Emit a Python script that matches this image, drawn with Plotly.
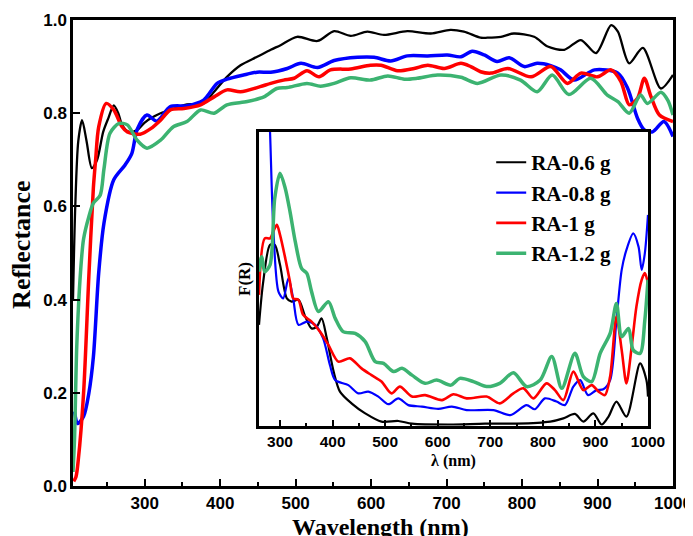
import plotly.graph_objects as go

# ---------------- main plot data (Reflectance) ----------------
wl_06 = [205, 208, 212, 217, 223, 230, 237, 245, 252, 259, 265, 270, 279, 290, 300, 308, 321, 334, 356, 378,
         392, 409, 427, 449, 467, 480, 502, 529, 551, 573, 595, 617, 648, 679, 705, 723, 745, 754, 772, 789,
         816, 834, 856, 878, 898, 918, 927, 942, 960, 984, 1000]
r_06 = [0.40, 0.60, 0.74, 0.785, 0.74, 0.682, 0.70, 0.76, 0.79, 0.817, 0.80, 0.775, 0.76, 0.764, 0.78, 0.789,
        0.80, 0.807, 0.819, 0.821, 0.846, 0.878, 0.903, 0.921, 0.936, 0.946, 0.964, 0.955, 0.976, 0.966, 0.975,
        0.968, 0.976, 0.971, 0.979, 0.975, 0.962, 0.962, 0.964, 0.971, 0.964, 0.943, 0.936, 0.957, 0.929, 0.989,
        0.975, 0.907, 0.94, 0.853, 0.882]

wl_08 = [207, 211, 219, 226, 232, 239, 246, 259, 274, 283, 290, 303, 316, 334, 356, 378, 396, 409, 431, 449,
         467, 489, 507, 529, 551, 582, 604, 626, 648, 675, 701, 719, 734, 750, 767, 783, 803, 820, 838, 851,
         869, 896, 927, 940, 953, 962, 973, 988, 1000]
r_08 = [0.16, 0.134, 0.149, 0.199, 0.277, 0.456, 0.564, 0.657, 0.689, 0.714, 0.765, 0.796, 0.783, 0.814, 0.816,
        0.828, 0.864, 0.873, 0.882, 0.888, 0.888, 0.896, 0.907, 0.898, 0.913, 0.92, 0.92, 0.912, 0.923, 0.923,
        0.925, 0.921, 0.933, 0.925, 0.911, 0.919, 0.90, 0.907, 0.902, 0.893, 0.871, 0.893, 0.886, 0.853, 0.789,
        0.764, 0.76, 0.782, 0.75]

wl_10 = [206, 209, 212, 219, 226, 232, 235, 239, 249, 259, 270, 277, 294, 308, 321, 334, 352, 374, 392, 409,
         427, 453, 467, 484, 498, 515, 531, 546, 573, 599, 613, 635, 657, 675, 697, 719, 732, 745, 759, 781,
         812, 838, 860, 878, 900, 918, 931, 942, 953, 962, 971, 982, 1000]
r_10 = [0.01, 0.02, 0.056, 0.199, 0.45, 0.64, 0.70, 0.77, 0.821, 0.807, 0.771, 0.76, 0.755, 0.767, 0.785, 0.807,
        0.81, 0.818, 0.835, 0.85, 0.846, 0.857, 0.864, 0.871, 0.875, 0.891, 0.878, 0.893, 0.895, 0.903, 0.903,
        0.891, 0.896, 0.903, 0.896, 0.907, 0.90, 0.889, 0.886, 0.896, 0.878, 0.90, 0.864, 0.886, 0.878, 0.893,
        0.868, 0.818, 0.832, 0.875, 0.835, 0.796, 0.782]

wl_12 = [205, 207, 210, 215, 219, 226, 232, 241, 246, 254, 266, 277, 290, 303, 321, 338, 356, 374, 392, 409,
         436, 458, 475, 489, 515, 533, 551, 573, 599, 622, 644, 661, 688, 719, 741, 772, 798, 820, 840, 862,
         891, 913, 927, 942, 957, 966, 984, 993, 1000]
r_12 = [0.03, 0.10, 0.30, 0.46, 0.53, 0.578, 0.607, 0.624, 0.68, 0.757, 0.778, 0.775, 0.742, 0.725, 0.742, 0.771,
        0.782, 0.807, 0.80, 0.818, 0.825, 0.835, 0.853, 0.855, 0.864, 0.858, 0.864, 0.876, 0.871, 0.88, 0.873,
        0.875, 0.882, 0.877, 0.864, 0.882, 0.871, 0.846, 0.882, 0.84, 0.875, 0.839, 0.825, 0.80, 0.839, 0.821,
        0.845, 0.828, 0.796]

# ---------------- inset data (F(R), arbitrary units) ----------------
lam_06 = [260, 268, 281, 290, 300, 313, 322, 335, 348, 360, 370, 379, 389, 402, 414, 436, 462, 493, 525, 551,
          623, 690, 750, 814, 839, 861, 877, 896, 912, 925, 940, 959, 985, 997, 1000]
f_06 = [0.344, 0.49, 0.616, 0.616, 0.548, 0.434, 0.423, 0.429, 0.372, 0.332, 0.338, 0.366, 0.298, 0.185, 0.117,
        0.077, 0.043, 0.015, 0.017, 0.008, 0.005, 0.008, 0.008, 0.015, 0.026, 0.041, 0.015, 0.043, 0.005, 0.032,
        0.083, 0.032, 0.213, 0.156, 0.10]

lam_08 = [260, 270, 281, 287, 297, 306, 316, 325, 335, 351, 367, 382, 395, 405, 430, 449, 468, 487, 506, 525,
          544, 570, 601, 627, 655, 706, 738, 769, 785, 804, 826, 842, 858, 871, 886, 902, 915, 928, 940, 950,
          959, 972, 982, 988, 994, 1000]
f_08 = [1.9, 1.5, 1.0, 0.684, 0.457, 0.434, 0.502, 0.434, 0.344, 0.355, 0.344, 0.298, 0.207, 0.156, 0.139, 0.111,
        0.117, 0.10, 0.074, 0.094, 0.071, 0.066, 0.058, 0.066, 0.054, 0.054, 0.037, 0.071, 0.057, 0.094, 0.083,
        0.071, 0.134, 0.156, 0.105, 0.122, 0.125, 0.156, 0.36, 0.531, 0.599, 0.655, 0.61, 0.531, 0.587, 0.718]

lam_10 = [260, 271, 281, 287, 294, 300, 310, 319, 325, 335, 344, 360, 376, 392, 411, 433, 455, 474, 493, 512,
          528, 551, 576, 608, 630, 655, 693, 718, 744, 763, 782, 807, 823, 839, 858, 877, 893, 906, 918, 928,
          940, 950, 959, 969, 978, 988, 994, 1000]
f_10 = [0.446, 0.638, 0.638, 0.661, 0.684, 0.65, 0.57, 0.49, 0.434, 0.429, 0.378, 0.355, 0.321, 0.276, 0.219,
        0.23, 0.196, 0.173, 0.151, 0.111, 0.134, 0.10, 0.105, 0.088, 0.108, 0.094, 0.10, 0.077, 0.111, 0.128,
        0.094, 0.145, 0.122, 0.088, 0.185, 0.122, 0.139, 0.117, 0.105, 0.168, 0.372, 0.258, 0.145, 0.27, 0.406,
        0.497, 0.52, 0.485]

lam_12 = [260, 265, 271, 281, 290, 300, 310, 319, 329, 341, 351, 360, 373, 392, 405, 420, 443, 462, 481, 497,
          516, 532, 551, 576, 598, 625, 642, 668, 693, 718, 744, 769, 795, 817, 836, 861, 877, 893, 909, 928,
          940, 950, 963, 972, 985, 994, 1000]
f_12 = [0.525, 0.576, 0.525, 0.548, 0.775, 0.86, 0.808, 0.729, 0.627, 0.536, 0.519, 0.457, 0.389, 0.423, 0.366,
        0.321, 0.315, 0.287, 0.219, 0.213, 0.185, 0.196, 0.173, 0.145, 0.156, 0.139, 0.162, 0.151, 0.134, 0.145,
        0.181, 0.134, 0.156, 0.236, 0.128, 0.247, 0.168, 0.151, 0.247, 0.315, 0.417, 0.304, 0.332, 0.258, 0.247,
        0.36, 0.497]

names = ["RA-0.6 g", "RA-0.8 g", "RA-1 g", "RA-1.2 g"]
colors = ["#000000", "#0000FF", "#FF0000", "#3CB371"]
x_ticks = [300, 400, 500, 600, 700, 800, 900, 1000]
y_ticks = [0, 0.2, 0.4, 0.6, 0.8, 1.0]

main_x = [wl_06, wl_08, wl_10, wl_12]
main_y = [r_06, r_08, r_10, r_12]
ins_x = [lam_06, lam_08, lam_10, lam_12]
ins_y = [f_06, f_08, f_10, f_12]
main_w = [2.3, 3.5, 3.5, 3.5]
ins_w = [2.2, 2.2, 2.6, 3.5]

fig = go.Figure()
for x, y, c, w in zip(main_x, main_y, colors, main_w):
    fig.add_trace(go.Scatter(x=x, y=y, mode="lines", line=dict(color=c, width=w, shape="spline", smoothing=0.8),
                             showlegend=False, xaxis="x", yaxis="y"))
for x, y, c, w, n in zip(ins_x, ins_y, colors, ins_w, names):
    fig.add_trace(go.Scatter(x=x, y=y, mode="lines", name=n,
                             line=dict(color=c, width=w, shape="spline", smoothing=0.8),
                             xaxis="x2", yaxis="y2"))

sans = "Liberation Sans"
serif = "Liberation Serif"

fig.update_layout(
    width=685, height=528,
    margin=dict(l=65, r=20, t=12, b=50),
    paper_bgcolor="white", plot_bgcolor="white",
    xaxis=dict(range=[205, 1000], domain=[0, 1], tickvals=x_ticks,
               ticks="inside", ticklen=7, tickwidth=2, tickcolor="black", automargin=False,
               minor=dict(tickvals=[250, 350, 450, 550, 650, 750, 850, 950], ticks="inside", ticklen=4,
                          tickwidth=2, tickcolor="black"),
               showline=True, linecolor="black", linewidth=2.5, mirror=True, showgrid=False, zeroline=False,
               tickfont=dict(family=sans, size=17, color="black", weight="bold")),
    yaxis=dict(range=[0, 1.0], domain=[0, 1], tickvals=y_ticks, tickformat=".1f",
               ticks="inside", ticklen=7, tickwidth=2, tickcolor="black", automargin=False,
               showline=True, linecolor="black", linewidth=2.5, mirror=True, showgrid=False, zeroline=False,
               tickfont=dict(family=sans, size=17, color="black", weight="bold")),
    xaxis2=dict(range=[260, 1000], domain=[0.31, 0.9583], anchor="y2", automargin=False,
                tickvals=x_ticks,
                ticks="inside", ticklen=6, tickwidth=2, tickcolor="black",
                minor=dict(tickvals=[350, 450, 550, 650, 750, 850, 950], ticks="inside", ticklen=3,
                           tickwidth=2, tickcolor="black"),
                showline=True, linecolor="black", linewidth=2.5, mirror=True, showgrid=False, zeroline=False,
                tickfont=dict(family=sans, size=15.5, color="black", weight="bold"),
                title=dict(text="λ (nm)", font=dict(family=serif, size=16, color="black", weight="bold"),
                           standoff=6)),
    yaxis2=dict(range=[0, 1.0], domain=[0.1288, 0.7597], anchor="x2", automargin=False,
                showticklabels=False, ticks="",
                showline=True, linecolor="black", linewidth=2.5, mirror=True, showgrid=False, zeroline=False,
                title=dict(text="F(R)", font=dict(family=serif, size=17, color="black", weight="bold"),
                           standoff=2)),
    legend=dict(x=0.697, y=0.738, xanchor="left", yanchor="top", bgcolor="rgba(0,0,0,0)",
                font=dict(family=serif, size=21, color="black", weight="bold"),
                itemwidth=30, tracegroupgap=0),
    annotations=[
        dict(text="Wavelength (nm)", xref="paper", yref="paper", x=0.512, y=-0.088,
             xanchor="center", yanchor="middle", showarrow=False,
             font=dict(family=serif, size=24, color="black", weight="bold")),
        dict(text="Reflectance", xref="paper", yref="paper", x=-0.087, y=0.517, textangle=-90,
             xanchor="center", yanchor="middle", showarrow=False,
             font=dict(family=serif, size=26, color="black", weight="bold")),
    ],
)

fig.write_html("out.html")
